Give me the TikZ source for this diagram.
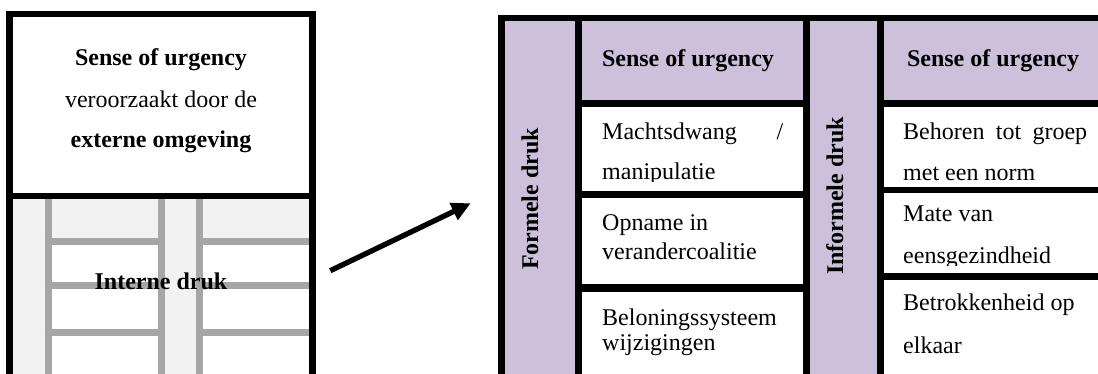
\documentclass[tikz,border=0pt]{standalone}
\usepackage{fontspec}
\setmainfont{Liberation Serif}
\usetikzlibrary{arrows.meta}
\definecolor{lavender}{HTML}{CCC0DA}
\definecolor{paleGray}{HTML}{F2F2F2}
\definecolor{brickLine}{HTML}{A6A6A6}
\begin{document}
\begin{tikzpicture}[x=1pt,y=-1pt,
  frame/.style={line width=6.5pt, line join=miter},
  rule/.style={line width=7pt},
  brick/.style={draw=brickLine, line width=7pt},
  txt/.style={inner sep=0pt, anchor=base west, font=\fontsize{24}{28}\selectfont},
  ctxt/.style={inner sep=0pt, anchor=base, font=\fontsize{24}{28}\selectfont},
  sidelabel/.style={inner sep=0pt, anchor=base, rotate=90, font=\fontsize{24}{28}\selectfont\bfseries},
]
\useasboundingbox (0,0) rectangle (1098,374);
\clip (0,0) rectangle (1098,374);
\fill[white] (0,0) rectangle (1098,374);

% ---------- left panel: external urgency above a brick wall ----------
\fill[paleGray] (9.7,196) rectangle (312.5,380);
\fill[white] (48.3,241.7) rectangle (161.7,380);
\fill[white] (199,241.7) rectangle (312.5,380);
\foreach \bx in {48.3,161.7,199}
  \draw[brick] (\bx,196) -- (\bx,380);
\foreach \by in {241.7,285.5,332.5}{
  \draw[brick] (44.8,\by) -- (165.2,\by);
  \draw[brick] (195.5,\by) -- (312.5,\by);
}
\draw[frame] (9.7,380) -- (9.7,14) -- (312.5,14) -- (312.5,380);
\draw[line width=6pt] (9.7,196.3) -- (312.5,196.3);

\node[ctxt, font=\fontsize{24}{28}\selectfont\bfseries] (extTitle) at (161,66) {Sense of urgency};
\node[ctxt] (extLine) at (161,108) {veroorzaakt door de};
\node[ctxt, font=\fontsize{24}{28}\selectfont\bfseries] (extSource) at (161,148) {externe omgeving};
\node[ctxt, font=\fontsize{24}{28}\selectfont\bfseries] (internal) at (161,289) {Interne druk};

% ---------- right panel: formal and informal pressure ----------
\fill[lavender] (501.7,18) rectangle (578,380);
\fill[lavender] (578,18) rectangle (806.7,103.5);
\fill[lavender] (806.7,18) rectangle (880.7,380);
\fill[lavender] (880.7,18) rectangle (1110,103.5);

\foreach \vx in {578,806.7,880.7}
  \draw[rule] (\vx,18) -- (\vx,380);
\draw[rule] (578,103.5) -- (806.7,103.5);
\draw[line width=7.5pt] (578,194.5) -- (806.7,194.5);
\draw[line width=8pt] (578,287.5) -- (806.7,287.5);
\draw[rule] (880.7,103.5) -- (1110,103.5);
\draw[line width=6.5pt] (880.7,190) -- (1110,190);
\draw[line width=6.5pt] (880.7,276.5) -- (1110,276.5);
\draw[frame] (501.7,380) -- (501.7,18) -- (1110,18);

\node[sidelabel] (formal) at (538,199) {Formele druk};
\node[sidelabel] (informal) at (843,196) {Informele druk};

\node[ctxt, font=\fontsize{24}{28}\selectfont\bfseries] (formalHead) at (688,67) {Sense of urgency};
\node[ctxt, font=\fontsize{24}{28}\selectfont\bfseries] (informalHead) at (993,67) {Sense of urgency};

% formal pressure items
\node[txt] (power) at (602,140) {\hbox to 181pt{Machtsdwang\hfill /}};
\begin{scope}
  \clip (582,107) rectangle (803,182);
  \node[txt] (powerB) at (602,180) {manipulatie};
\end{scope}
\node[txt] (coalition) at (602,231) {Opname in};
\node[txt] (coalitionB) at (602,259) {verandercoalitie};
\node[txt] (reward) at (602,325) {Beloningssysteem};
\node[txt] (rewardB) at (602,350) {wijzigingen};

% informal pressure items
\node[txt] (group) at (903,140) {\hbox to 184pt{Behoren\hfill tot\hfill groep}};
\begin{scope}
  \clip (884,107) rectangle (1098,182.5);
  \node[txt] (groupB) at (903,181) {met een norm};
\end{scope}
\node[txt] (unity) at (903,222) {Mate van};
\begin{scope}
  \clip (884,193) rectangle (1098,265.5);
  \node[txt] (unityB) at (903,263) {eensgezindheid};
\end{scope}
\node[txt] (involve) at (903,310) {Betrokkenheid op};
\node[txt] (involveB) at (903,353) {elkaar};

% ---------- connecting arrow ----------
\coordinate (arrowTail) at (330.3,270.7);
\coordinate (arrowTip) at (470.7,203.3);
\draw[line width=5.3pt, -{Triangle[length=19pt,width=18pt]}] (arrowTail) -- (arrowTip);
\end{tikzpicture}
\end{document}
